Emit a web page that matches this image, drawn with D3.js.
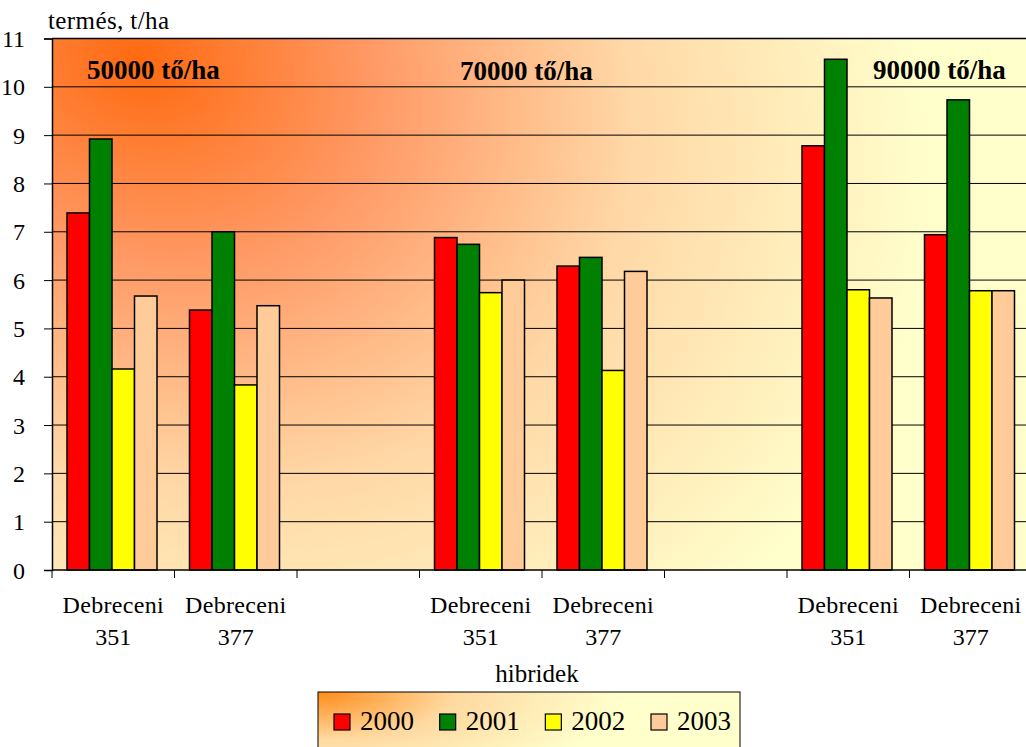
<!DOCTYPE html>
<html>
<head>
<meta charset="utf-8">
<script src="https://cdn.jsdelivr.net/npm/d3@7"></script>
</head>
<body style="margin:0; background:#fff">
<script>
// categories (empty slots separate the density groups)
const categories = ["a351", "a377", "gap1", "b351", "b377", "gap2", "c351", "c377"];
const catLabels = { a351: "351", a377: "377", b351: "351", b377: "377", c351: "351", c377: "377" };
const years = ["2000", "2001", "2002", "2003"];
const colors = ["#FF0000", "#008000", "#FFFF00", "#FFCC99"];

// yields, t/ha
const y2000 = [7.39, 5.38, null, 6.88, 6.29, null, 8.78, 6.94];
const y2001 = [8.92, 7.00, null, 6.74, 6.47, null, 10.57, 9.73];
const y2002 = [4.16, 3.83, null, 5.74, 4.13, null, 5.80, 5.78];
const y2003 = [5.67, 5.47, null, 6.00, 6.18, null, 5.63, 5.78];
const series = [y2000, y2001, y2002, y2003];

const yTicks = d3.range(0, 12);
const densities = [
  { text: "50000 tő/ha", x: 87, y: 79 },
  { text: "70000 tő/ha", x: 460, y: 80 },
  { text: "90000 tő/ha", x: 873, y: 79 }
];

const FONT = "Liberation Serif";
const width = 1026, height = 747;
const margin = { top: 38.5, left: 52 };
const plotW = 8 * 122.5;

const svg = d3.select("body").append("svg")
  .attr("width", width)
  .attr("height", height);

// every text gets its font directly
function txt(sel, size, bold) {
  return sel.style("font-family", FONT)
    .style("font-size", size + "px")
    .style("font-weight", bold ? "bold" : "normal")
    .attr("fill", "#000");
}

const defs = svg.append("defs");
const bg = defs.append("radialGradient")
  .attr("id", "bg")
  .attr("gradientUnits", "userSpaceOnUse")
  .attr("cx", 140).attr("cy", 60).attr("r", 820)
  .attr("gradientTransform", "translate(140,60) rotate(25) scale(1,0.8) translate(-140,-60)");
bg.append("stop").attr("offset", "0%").attr("stop-color", "#FF6A10");
bg.append("stop").attr("offset", "30%").attr("stop-color", "#FF9A66");
bg.append("stop").attr("offset", "62%").attr("stop-color", "#FFD8A6");
bg.append("stop").attr("offset", "100%").attr("stop-color", "#FFFFCC");

const lg = defs.append("radialGradient")
  .attr("id", "lg")
  .attr("gradientUnits", "userSpaceOnUse")
  .attr("cx", 320).attr("cy", 692).attr("r", 300)
  .attr("gradientTransform", "translate(320,692) scale(1,0.35) translate(-320,-692)");
lg.append("stop").attr("offset", "0%").attr("stop-color", "#FF8C1A");
lg.append("stop").attr("offset", "45%").attr("stop-color", "#FFD9A0");
lg.append("stop").attr("offset", "100%").attr("stop-color", "#FFFFCC");

const x = d3.scaleBand()
  .domain(categories)
  .range([margin.left, margin.left + plotW]);

const y = d3.scaleLinear()
  .domain([0, 11])
  .range([570, margin.top]);

const xs = d3.scaleBand()
  .domain(years)
  .range([15, 15 + 4 * 22.5]);

// plot background
svg.append("rect")
  .attr("x", margin.left)
  .attr("y", margin.top)
  .attr("width", plotW)
  .attr("height", y(0) - margin.top)
  .attr("fill", "url(#bg)");

// gridlines
svg.append("g")
  .selectAll("line")
  .data(yTicks.slice(1))
  .enter().append("line")
  .attr("x1", margin.left)
  .attr("x2", margin.left + plotW)
  .attr("y1", d => y(d))
  .attr("y2", d => y(d))
  .attr("stroke", "#000")
  .attr("stroke-width", 1);

// bars
series.forEach((vals, si) => {
  svg.append("g")
    .selectAll("rect")
    .data(categories.map((c, i) => ({ c, v: vals[i] })).filter(d => d.v !== null))
    .enter().append("rect")
    .attr("x", d => x(d.c) + xs(years[si]))
    .attr("y", d => y(d.v))
    .attr("width", xs.bandwidth())
    .attr("height", d => y(0) - y(d.v))
    .attr("fill", colors[si])
    .attr("stroke", "#000")
    .attr("stroke-width", 1.5);
});

// y axis
const yAxis = svg.append("g")
  .attr("transform", `translate(${margin.left},0)`)
  .call(d3.axisLeft(y).tickValues(yTicks).tickSize(8).tickPadding(19).tickFormat(d3.format("d")));
yAxis.select(".domain").attr("stroke", "#000").attr("stroke-width", 1.5);
yAxis.selectAll(".tick line").attr("stroke", "#000");
txt(yAxis.selectAll("text"), 24).attr("dy", "0.34em");

// x axis with ticks at band boundaries
const xAxis = svg.append("g")
  .attr("transform", `translate(0,${y(0)})`);
xAxis.append("line")
  .attr("x1", margin.left).attr("x2", margin.left + plotW)
  .attr("stroke", "#000").attr("stroke-width", 1.5);
xAxis.selectAll("line.tick")
  .data(categories)
  .enter().append("line")
  .attr("class", "tick")
  .attr("x1", d => x(d)).attr("x2", d => x(d))
  .attr("y1", 0).attr("y2", 8)
  .attr("stroke", "#000");

const labelled = categories.filter(c => catLabels[c]);
const xl = svg.append("g");
txt(xl.selectAll("text.l1")
  .data(labelled)
  .enter().append("text")
  .attr("class", "l1")
  .attr("x", d => x(d) + x.bandwidth() / 2)
  .attr("y", 613)
  .attr("text-anchor", "middle"), 24)
  .style("letter-spacing", "0.3px")
  .text("Debreceni");
txt(xl.selectAll("text.l2")
  .data(labelled)
  .enter().append("text")
  .attr("class", "l2")
  .attr("x", d => x(d) + x.bandwidth() / 2)
  .attr("y", 645)
  .attr("text-anchor", "middle"), 24)
  .text(d => catLabels[d]);

// top border
svg.append("line")
  .attr("x1", margin.left).attr("x2", margin.left + plotW)
  .attr("y1", margin.top).attr("y2", margin.top)
  .attr("stroke", "#000").attr("stroke-width", 1.5);

// axis titles
txt(svg.append("text")
  .attr("x", 48).attr("y", 29), 25)
  .style("letter-spacing", "0.4px")
  .text("termés, t/ha");
txt(svg.append("text")
  .attr("x", 537).attr("y", 682)
  .attr("text-anchor", "middle"), 25)
  .text("hibridek");

// density labels
txt(svg.append("g")
  .selectAll("text")
  .data(densities)
  .enter().append("text")
  .attr("x", d => d.x)
  .attr("y", d => d.y), 27, true)
  .text(d => d.text);

// legend
const legend = svg.append("g");
legend.append("rect")
  .attr("x", 318).attr("y", 692)
  .attr("width", 422).attr("height", 60)
  .attr("fill", "url(#lg)")
  .attr("stroke", "#000")
  .attr("stroke-width", 1);

const lx = d3.scalePoint().domain(years).range([334, 651]);
const entries = legend.selectAll("g.entry")
  .data(years)
  .enter().append("g")
  .attr("class", "entry")
  .attr("transform", d => `translate(${lx(d)},714)`);
entries.append("rect")
  .attr("width", 16).attr("height", 16)
  .attr("fill", (d, i) => colors[i])
  .attr("stroke", "#000")
  .attr("stroke-width", 1.2);
txt(entries.append("text")
  .attr("x", 26).attr("y", 16), 27)
  .text(d => d);
</script>
</body>
</html>
